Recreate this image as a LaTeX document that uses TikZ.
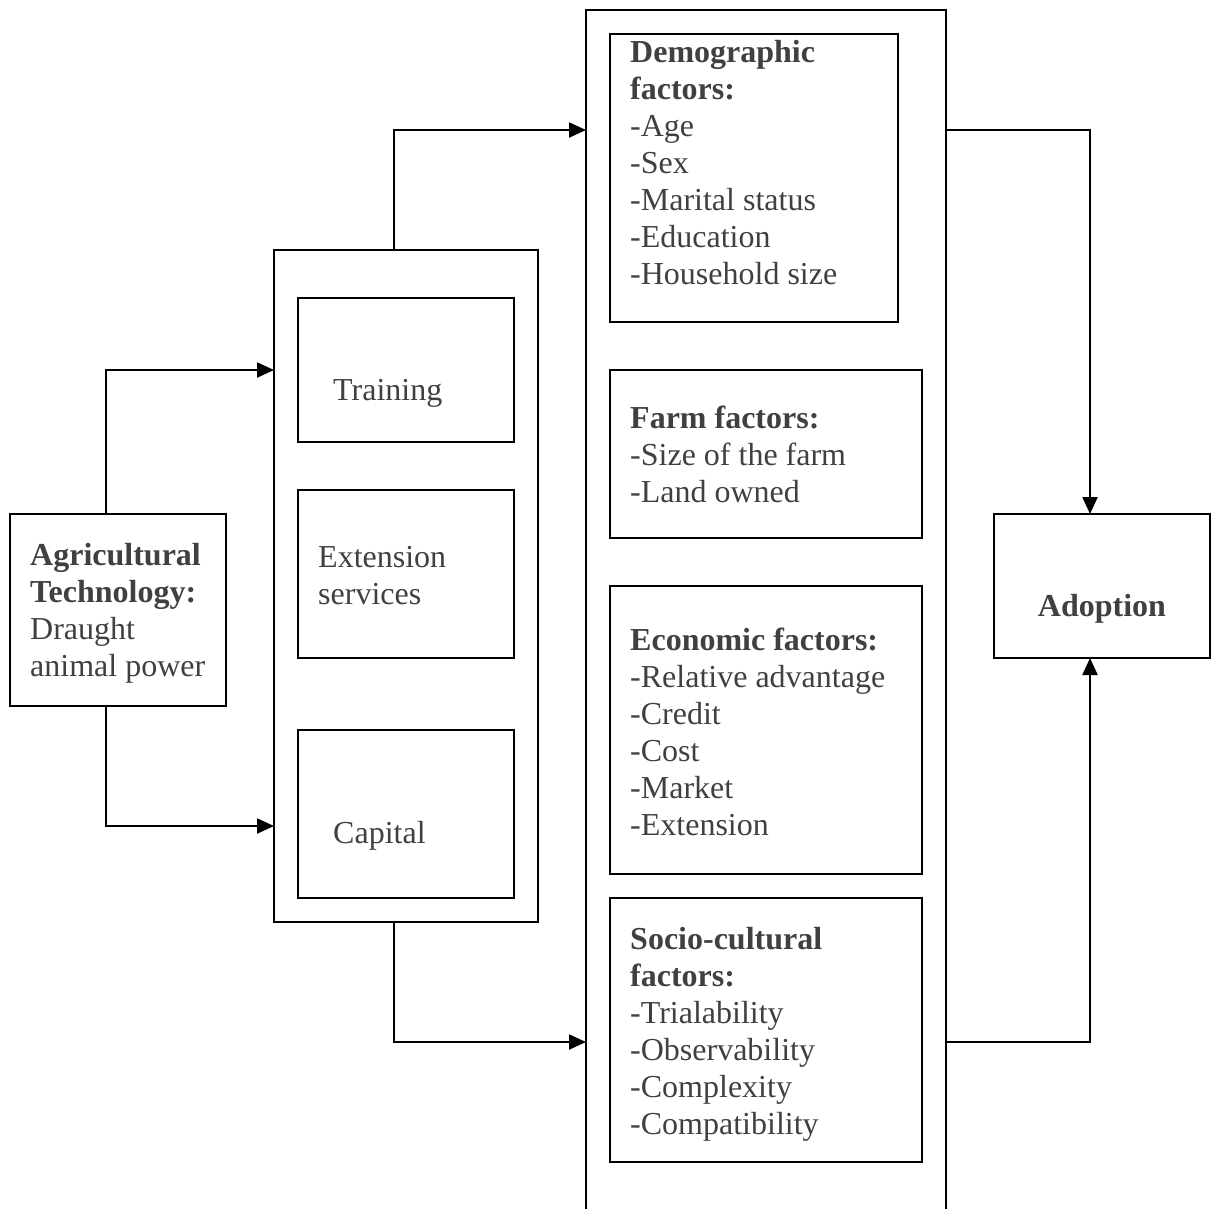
\documentclass[tikz,border=0pt]{standalone}
\usepackage{fontspec}
\setmainfont{Liberation Serif}
\usepackage{tikz}
\usetikzlibrary{arrows.meta,calc,positioning}
\definecolor{textgray}{HTML}{404040}

\begin{document}
\begin{tikzpicture}[x=1pt,y=-1pt,
  box/.style={draw, line width=2.2pt, inner sep=0pt, outer sep=0pt, anchor=north west},
  txt/.style={anchor=base west, align=left, inner sep=0pt, text=textgray, font=\fontsize{32}{37}\selectfont},
  arr/.style={line width=2.2pt, -{Triangle[length=17pt,width=15pt]}}]
\useasboundingbox (0,0) rectangle (1220,1208);
% boxes
\node[box, minimum width=216pt, minimum height=192pt] (agri) at (10,514) {};
\node[box, minimum width=264pt, minimum height=672pt] (mid) at (274,250) {};
\node[box, minimum width=216pt, minimum height=144pt] (train) at (298,298) {};
\node[box, minimum width=216pt, minimum height=168pt] (ext) at (298,490) {};
\node[box, minimum width=216pt, minimum height=168pt] (cap) at (298,730) {};
\node[box, minimum width=360pt, minimum height=1215pt] (big) at (586,10) {};
\node[box, minimum width=288pt, minimum height=288pt] (demo) at (610,34) {};
\node[box, minimum width=312pt, minimum height=168pt] (farm) at (610,370) {};
\node[box, minimum width=312pt, minimum height=288pt] (econ) at (610,586) {};
\node[box, minimum width=312pt, minimum height=264pt] (socio) at (610,898) {};
\node[box, minimum width=216pt, minimum height=144pt] (adopt) at (994,514) {};
% texts (anchored at the baseline of their last line)
\node[txt] (agritxt) at ([shift={(20,162)}]agri.north west)
  {\textbf{Agricultural}\\\textbf{Technology:}\\Draught\\animal power};
\node[txt] (traintxt) at ([shift={(35,102)}]train.north west) {Training};
\node[txt] (exttxt) at ([shift={(20,114)}]ext.north west) {Extension\\services};
\node[txt] (captxt) at ([shift={(35,113)}]cap.north west) {Capital};
\node[txt] (demotxt) at ([shift={(20,250)}]demo.north west)
  {\textbf{Demographic}\\\textbf{factors:}\\-Age\\-Sex\\-Marital status\\-Education\\-Household size};
\node[txt] (farmtxt) at ([shift={(20,132)}]farm.north west)
  {\textbf{Farm factors:}\\-Size of the farm\\-Land owned};
\node[txt] (econtxt) at ([shift={(20,249)}]econ.north west)
  {\textbf{Economic factors:}\\-Relative advantage\\-Credit\\-Cost\\-Market\\-Extension};
\node[txt] (sociotxt) at ([shift={(20,236)}]socio.north west)
  {\textbf{Socio-cultural}\\\textbf{factors:}\\-Trialability\\-Observability\\-Complexity\\-Compatibility};
\node[txt, anchor=base] (adopttxt) at ([shift={(0,102)}]adopt.north) {\textbf{Adoption}};
% connectors
\draw[arr] ([xshift=-12pt]agri.north) |- (mid.west |- train.center);
\draw[arr] ([xshift=-12pt]agri.south) |- ([yshift=96pt]mid.south west);
\draw[arr] ([xshift=-12pt]mid.north) |- ([yshift=-120pt]big.north west);
\draw[arr] ([xshift=-12pt]mid.south) |- ([yshift=-1032pt]big.north west);
\draw[arr] ([yshift=-120pt]big.north east) -| ([xshift=-12pt]adopt.north);
\draw[arr] ([yshift=-1032pt]big.north east) -| ([xshift=-12pt]adopt.south);
\end{tikzpicture}
\end{document}
